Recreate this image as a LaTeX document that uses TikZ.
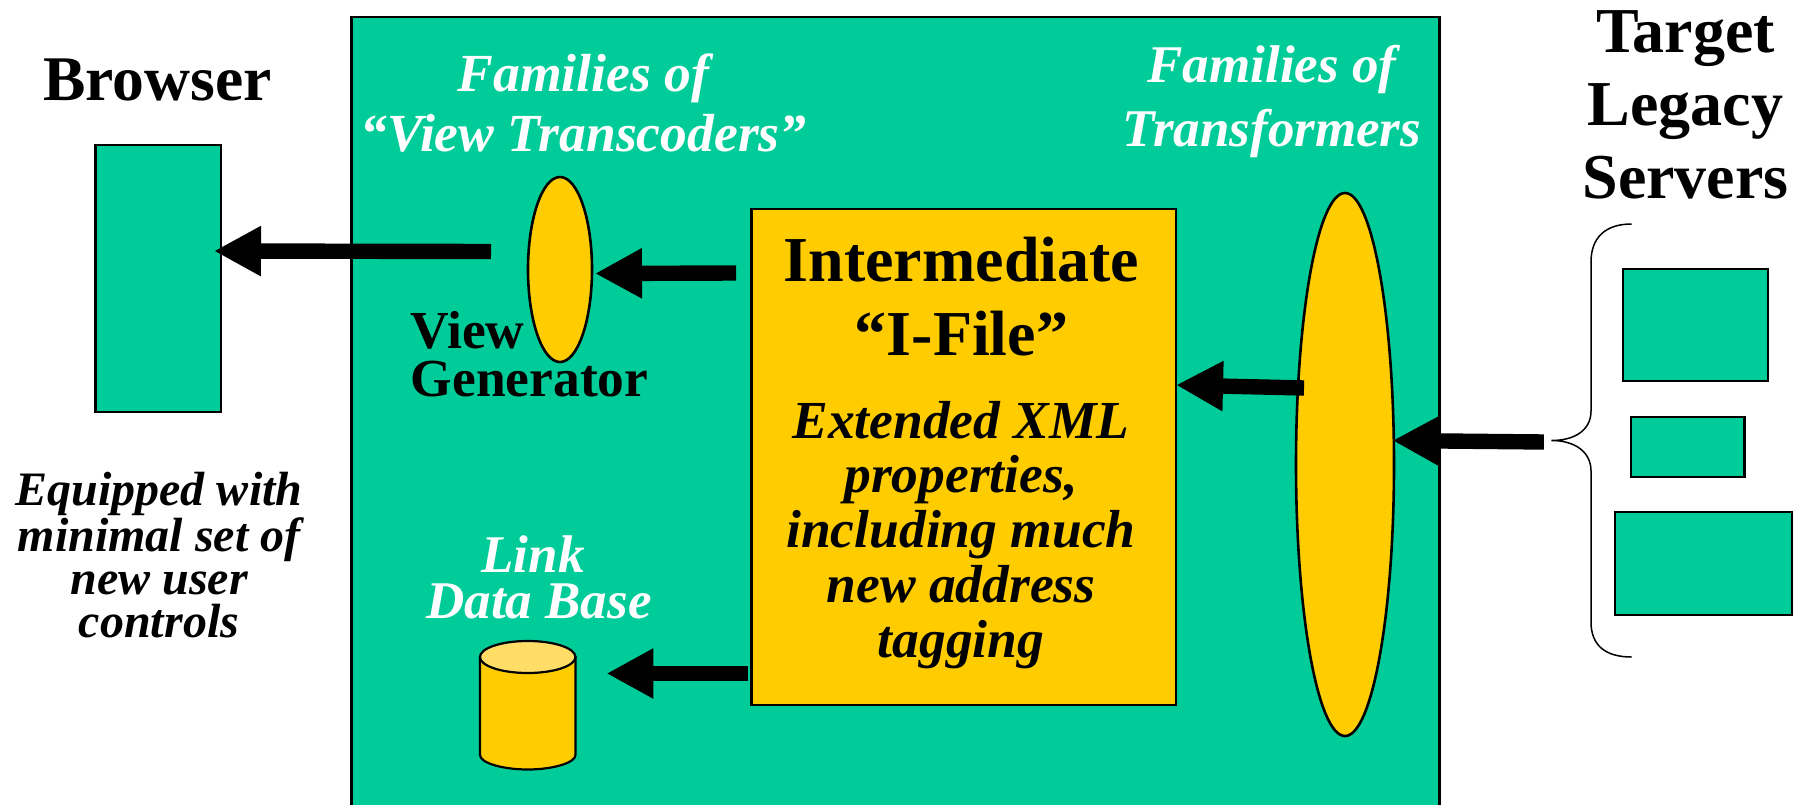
\documentclass[tikz,border=0pt]{standalone}
\usepackage{fontspec}
\setmainfont{Liberation Serif}
\usetikzlibrary{shapes.geometric,arrows.meta}
\definecolor{grn}{HTML}{00CC99}
\definecolor{ylw}{HTML}{FFCC00}
\definecolor{ltop}{HTML}{FFDD66}
\newcommand{\fs}[2]{\fontsize{#1}{#2}\selectfont}
\tikzset{
  x=1pt,y=-1pt,
  box/.style={draw=black,line width=2.4pt,fill=#1,inner sep=0pt,outer sep=0pt},
  ell/.style={ellipse,draw=black,line width=2.6pt,fill=ylw,inner sep=0pt,outer sep=0pt},
  txt/.style={inner sep=0pt,outer sep=0pt,align=center,anchor=base},
  bigarrow/.style={line width=15.4pt,draw=black,-{Triangle[length=47pt,width=47pt]}},
}
\begin{document}
\begin{tikzpicture}
\useasboundingbox (0,0) rectangle (1801,805);
\clip (0,0) rectangle (1801,805);
% main panel
\node[box=grn,minimum width=1088pt,minimum height=813pt] (panel) at (895.5,423.5) {};
% browser and servers
\node[box=grn,minimum width=125.6pt,minimum height=267.2pt] (browser) at (158.2,278.4) {};
\node[box=grn,minimum width=145pt,minimum height=112pt] (srvA) at (1695.5,325) {};
\node[box=grn,minimum width=113.5pt,minimum height=60pt] (srvB) at (1687.8,447) {};
\node[box=grn,minimum width=177pt,minimum height=103pt] (srvC) at (1703.5,563.5) {};
% central shapes
\node[box=ylw,minimum width=424.5pt,minimum height=496pt] (ifile) at (963.8,457) {};
\node[ell,minimum width=64pt,minimum height=185pt] (vt) at (560,269.5) {};
\node[ell,minimum width=98pt,minimum height=543pt] (tf) at (1345,464.5) {};
% link data base
\node[inner sep=0pt,outer sep=0pt,minimum width=95.5pt,minimum height=128pt] (db) at (527.7,705) {};
\draw[line width=2.2pt,fill=ylw] (480,657) -- (480,755) .. controls (480,763) and (503,769.5) .. (527.7,769.5)
  .. controls (552,769.5) and (575.5,763) .. (575.5,755) -- (575.5,657) -- cycle;
\draw[line width=2.2pt,fill=ltop] (527.7,657) ellipse [x radius=47.75pt,y radius=16pt];
% brace
\coordinate (bracetip) at (1551.4,440.5);
\draw[line width=1.5pt] (1631.5,224) .. controls (1605,224) and (1591,238) .. (1591,262) -- (1591,411)
  .. controls (1591,430) and (1575,440.5) .. (bracetip)
  .. controls (1575,440.5) and (1591,452) .. (1591,471) -- (1591,622)
  .. controls (1591,645) and (1605,657) .. (1631.5,657);
% arrows
\draw[bigarrow] ([shift={(-37,-18)}]vt.west) -- ([shift={(-7,-27.4)}]browser.east);
\draw[bigarrow] ([shift={(-15.5,-184)}]ifile.west) -- ([shift={(3,4)}]vt.east);
\draw[bigarrow] ([shift={(-3.5,216.5)}]ifile.west) -- ([shift={(31,-31.5)}]db.east);
\draw[bigarrow] ([shift={(8,-76.5)}]tf.west) -- ([shift={(0,-72)}]ifile.east);
\draw[bigarrow] ([shift={(-7.5,1.5)}]bracetip) -- ([shift={(-1.5,-24)}]tf.east);
% texts
\node[txt,font=\fs{63.6}{73}\bfseries] (lbrowser) at (157.5,101) {Browser};
\node[txt,font=\fs{64}{73}\bfseries] (ltarget) at (1685.5,199) {Target\\Legacy\\Servers};
\node[txt,font=\fs{53.6}{60}\bfseries\itshape,text=white] (lvt) at (583.5,151.4) {Families of\\“View Transcoders”};
\node[txt,font=\fs{53}{64}\bfseries\itshape,text=white] (ltf) at (1272,147) {Families of\\Transformers};
\node[txt,font=\fs{53.5}{48}\bfseries,align=left] (lvg) at (529.5,396) {View\\Generator};
\node[txt,font=\fs{53}{46}\bfseries\itshape,text=white] (llink) at (539,618) {Link\kern 12pt\\Data Base};
\node[txt,font=\fs{48}{43}\bfseries\itshape] (lequip) at (159,637) {Equipped with\\minimal set of\\new user\\controls};
\node[txt,font=\fs{64}{73.3}\bfseries] (ltitle) at (961.5,355) {Intermediate\\“I-File”};
\node[txt,font=\fs{53.5}{54.75}\bfseries\itshape] (lsub) at (961,657) {Extended XML\\properties,\\including much\\new address\\tagging};
\end{tikzpicture}
\end{document}
